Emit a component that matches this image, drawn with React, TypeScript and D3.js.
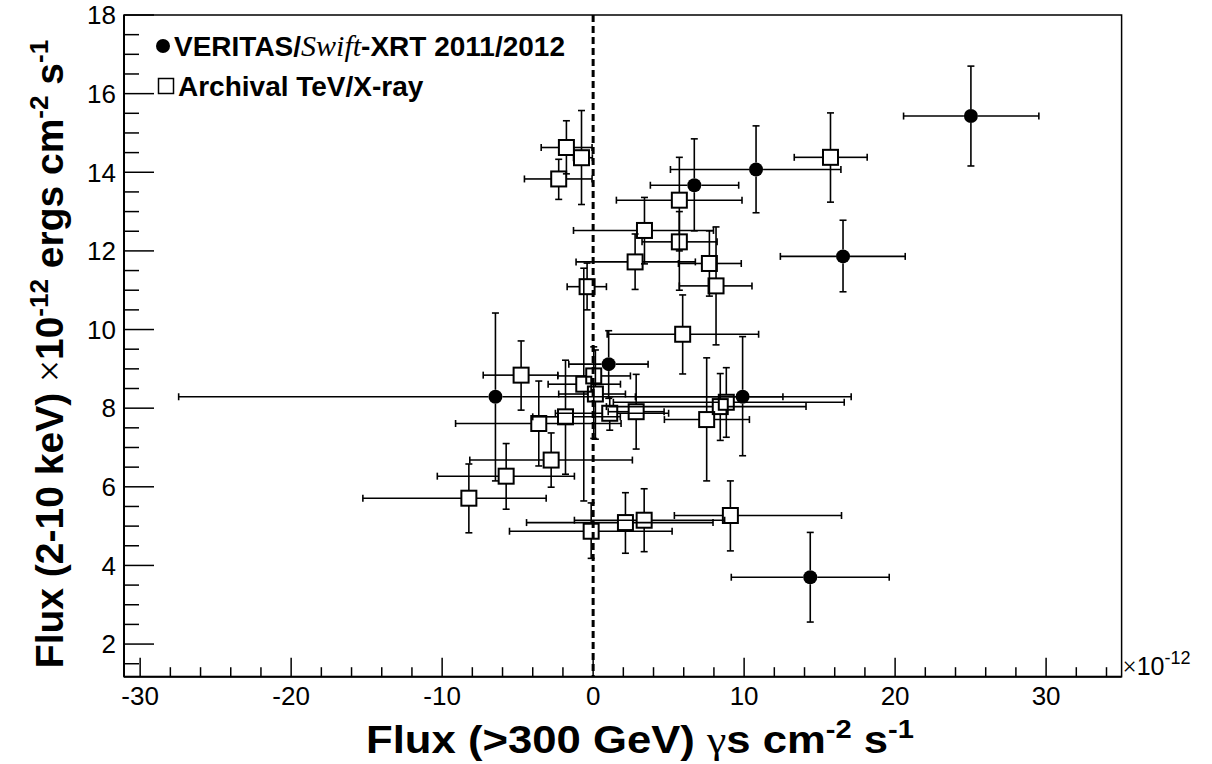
import React from 'react';
import * as d3 from 'd3';

// VERITAS / Swift-XRT 2011/2012 (filled circles)
const verX = [25.02, 10.79, 6.70, 16.55, 1.03, -6.47, 9.90, 14.38];
const verY = [15.43, 14.07, 13.67, 11.86, 9.12, 8.29, 8.29, 3.70];
const verXLo = [20.56, 5.12, 3.79, 12.40, -1.61, -27.45, 2.80, 9.15];
const verXHi = [29.52, 16.41, 9.64, 20.67, 3.64, 12.57, 17.09, 19.61];
const verYLo = [14.16, 12.97, 12.51, 10.96, 8.25, 6.15, 6.79, 2.56];
const verYHi = [16.70, 15.18, 14.85, 12.78, 9.97, 10.42, 9.82, 4.84];

// Archival TeV/X-ray (open squares)
const arcX = [-2.28, -1.77, -0.77, 15.72, 5.71, 3.40, 5.71, 2.78, 7.70, 8.14, -0.40, 5.93, -4.77, -0.62, 0.04, 0.15, -1.83, -3.60, 1.10, 2.85, 7.52, 8.42, 8.82, -2.78, -5.76, -8.23, 2.14, 3.38, 9.09, -0.13];
const arcY = [13.83, 14.63, 14.37, 14.38, 13.29, 12.52, 12.23, 11.72, 11.68, 11.11, 11.09, 9.88, 8.84, 8.61, 8.82, 8.36, 7.78, 7.61, 7.87, 7.91, 7.71, 8.04, 8.15, 6.68, 6.27, 5.71, 5.09, 5.15, 5.27, 4.87];
const arcXLo = [-4.55, -3.44, -1.30, 13.32, 1.54, -1.30, 3.24, -1.13, 5.65, 5.71, -1.72, 0.93, -7.28, -2.98, -2.34, -2.28, -4.0, -9.11, -2.5, 1.0, 4.72, 0.88, 1.34, -8.17, -10.32, -15.25, -4.41, -1.24, 5.38, -5.54];
const arcXHi = [-0.07, -0.07, -0.05, 18.15, 9.86, 7.97, 8.21, 6.77, 9.81, 10.52, 0.88, 10.96, -2.34, 1.81, 2.47, 2.14, 1.8, 1.85, 5.0, 4.7, 10.35, 14.10, 16.63, 2.60, -1.24, -3.11, 7.94, 8.71, 16.45, 5.23];
const arcYLo = [13.31, 13.96, 13.18, 13.24, 12.00, 11.67, 11.00, 11.02, 10.85, 9.61, 10.50, 8.87, 7.95, 5.64, 7.23, 7.21, 6.32, 6.53, 7.44, 6.96, 6.15, 7.18, 7.26, 5.99, 5.43, 4.83, 4.31, 4.35, 4.37, 4.18];
const arcYHi = [14.33, 15.31, 15.57, 15.51, 14.38, 13.36, 13.00, 12.43, 12.51, 12.61, 11.69, 10.88, 9.71, 11.56, 9.56, 9.48, 9.22, 8.69, 8.29, 8.86, 9.28, 8.88, 9.03, 7.37, 7.10, 6.58, 5.85, 5.95, 6.15, 5.59];

const xDomain = [-31.07, 35.0];
const yDomain = [1.17, 18];
const xMajor = [-30, -20, -10, 0, 10, 20, 30];
const yMajor = [2, 4, 6, 8, 10, 12, 14, 16, 18];

const L = 124, R = 1121.6, T = 15, B = 676.7;
const FONT = "'Liberation Sans', Arial, Helvetica, sans-serif";
const SERIF = "'Liberation Serif', 'Times New Roman', serif";

function ErrBars({ xs, ys, xlo, xhi, ylo, yhi, gap, x, y }: any) {
  const segs: any[] = [];
  const cap = 3.5;
  xs.forEach((v: number, i: number) => {
    const cx = x(v), cy = y(ys[i]);
    const l = x(xlo[i]), r = x(xhi[i]), t = y(yhi[i]), b = y(ylo[i]);
    if (cx - l > gap) {
      segs.push(<line key={`l${i}`} x1={l} y1={cy} x2={cx - gap} y2={cy} />);
      segs.push(<line key={`lc${i}`} x1={l} y1={cy - cap} x2={l} y2={cy + cap} />);
    }
    if (r - cx > gap) {
      segs.push(<line key={`r${i}`} x1={cx + gap} y1={cy} x2={r} y2={cy} />);
      segs.push(<line key={`rc${i}`} x1={r} y1={cy - cap} x2={r} y2={cy + cap} />);
    }
    if (cy - t > gap) {
      segs.push(<line key={`t${i}`} x1={cx} y1={t} x2={cx} y2={cy - gap} />);
      segs.push(<line key={`tc${i}`} x1={cx - cap} y1={t} x2={cx + cap} y2={t} />);
    }
    if (b - cy > gap) {
      segs.push(<line key={`b${i}`} x1={cx} y1={cy + gap} x2={cx} y2={b} />);
      segs.push(<line key={`bc${i}`} x1={cx - cap} y1={b} x2={cx + cap} y2={b} />);
    }
  });
  return <g stroke="#000" strokeWidth={1.6}>{segs}</g>;
}

export default function App() {
  const x = d3.scaleLinear().domain(xDomain).range([L, R]);
  const y = d3.scaleLinear().domain(yDomain).range([B, T]);
  const xMinor = d3.range(-30, 35, 2).filter((v) => !xMajor.includes(v));
  const yMinor = d3.range(1.5, 18, 0.5).filter((v) => !yMajor.includes(v));
  const sq = 7.5;
  const rc = 7;
  const xtCx = 640;
  return (
    <svg width={1212} height={764} style={{ position: 'absolute', left: 0, top: 0, background: '#fff' }}>
      <rect x={0} y={0} width={1212} height={764} fill="#fff" />
      {/* dashed zero line */}
      <line x1={x(0)} y1={T} x2={x(0)} y2={B} stroke="#000" strokeWidth={3} strokeDasharray="7,4" />
      {/* archival */}
      <ErrBars xs={arcX} ys={arcY} xlo={arcXLo} xhi={arcXHi} ylo={arcYLo} yhi={arcYHi} gap={sq} x={x} y={y} />
      <g fill="none" stroke="#000" strokeWidth={2}>
        {arcX.map((v, i) => (
          <rect key={i} x={x(v) - sq} y={y(arcY[i]) - sq} width={2 * sq} height={2 * sq} />
        ))}
      </g>
      {/* VERITAS */}
      <ErrBars xs={verX} ys={verY} xlo={verXLo} xhi={verXHi} ylo={verYLo} yhi={verYHi} gap={rc} x={x} y={y} />
      <g fill="#000">
        {verX.map((v, i) => (
          <circle key={i} cx={x(v)} cy={y(verY[i])} r={rc} />
        ))}
      </g>
      {/* frame */}
      <rect x={L} y={T} width={R - L} height={B - T} fill="none" stroke="#000" strokeWidth={1.5} />
      <line x1={L} y1={T} x2={L} y2={B} stroke="#000" strokeWidth={2} />
      <line x1={L} y1={B} x2={R} y2={B} stroke="#000" strokeWidth={2} />
      {/* ticks */}
      <g stroke="#000" strokeWidth={1.5}>
        {xMajor.map((v) => <line key={`xM${v}`} x1={x(v)} y1={B} x2={x(v)} y2={B - 19} />)}
        {xMinor.map((v) => <line key={`xm${v}`} x1={x(v)} y1={B} x2={x(v)} y2={B - 9.5} />)}
        {yMajor.map((v) => <line key={`yM${v}`} x1={L} y1={y(v)} x2={L + 30} y2={y(v)} />)}
        {yMinor.map((v) => <line key={`ym${v}`} x1={L} y1={y(v)} x2={L + 15} y2={y(v)} />)}
      </g>
      <g fontFamily={FONT} fontSize={26} fill="#000">
        {xMajor.map((v) => (
          <text key={`xl${v}`} x={x(v)} y={B + 28.5} textAnchor="middle">{v}</text>
        ))}
        {yMajor.map((v) => (
          <text key={`yl${v}`} x={L - 8} y={y(v) + 9.3} textAnchor="end">{v}</text>
        ))}
      </g>
      {/* exponent */}
      <text x={R + 1} y={B - 2} fontFamily={FONT} fontSize={25} fill="#000">
        <tspan fontFamily={SERIF}>×</tspan>10<tspan dy={-11} fontSize={18}>-12</tspan>
      </text>
      {/* x title */}
      <g transform={`translate(${xtCx},753) scale(1.12,1)`}>
        <text x={0} y={0} textAnchor="middle" fontFamily={FONT} fontWeight="bold" fontSize={39} fill="#000">
          Flux (&gt;300 GeV) <tspan fontFamily={SERIF} fontWeight="normal">γ</tspan>s cm<tspan dy={-15} fontSize={26}>-2</tspan><tspan dy={15}> s</tspan><tspan dy={-15} fontSize={26}>-1</tspan>
        </text>
      </g>
      {/* y title */}
      <text transform={`translate(63,354) rotate(-90)`} textAnchor="middle" fontFamily={FONT} fontWeight="bold" fontSize={39} fill="#000">
        Flux (2-10 keV) <tspan fontFamily={SERIF} fontWeight="normal">×</tspan>10<tspan dy={-15} fontSize={26}>-12</tspan><tspan dy={15}> ergs cm</tspan><tspan dy={-15} fontSize={26}>-2</tspan><tspan dy={15}> s</tspan><tspan dy={-15} fontSize={26}>-1</tspan>
      </text>
      {/* legend */}
      <circle cx={163} cy={46} r={rc} fill="#000" />
      <text x={174} y={56} fontFamily={FONT} fontWeight="bold" fontSize={28} fill="#000">
        VERITAS/<tspan fontFamily={SERIF} fontStyle="italic" fontWeight="normal" fontSize={30}>Swift</tspan>-XRT 2011/2012
      </text>
      <rect x={166 - 7.5} y={86 - 7.5} width={15} height={15} fill="none" stroke="#000" strokeWidth={1.5} />
      <text x={178} y={96} fontFamily={FONT} fontWeight="bold" fontSize={28} fill="#000">Archival TeV/X-ray</text>
    </svg>
  );
}
